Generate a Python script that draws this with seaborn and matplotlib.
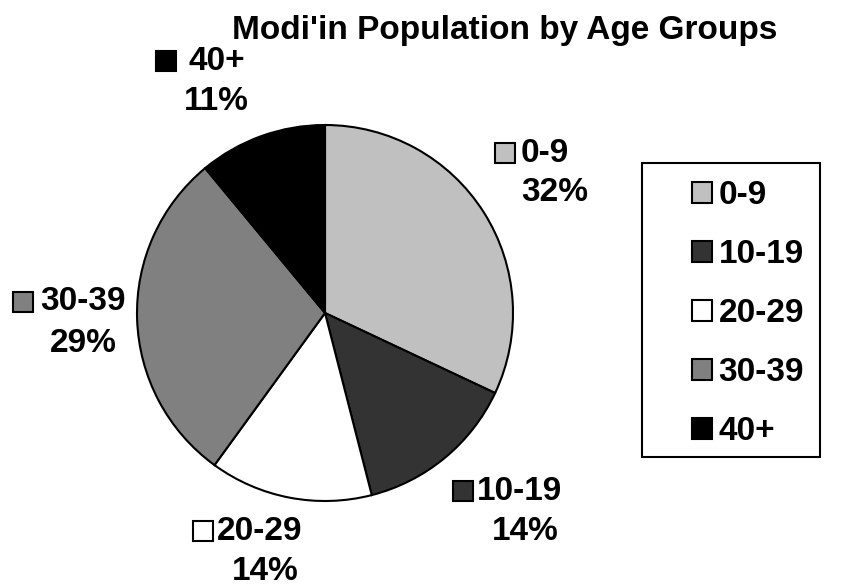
import matplotlib
matplotlib.use("Agg")
import matplotlib.pyplot as plt
import matplotlib.patches as mpatches
import seaborn as sns

# data
groups = ["0-9", "10-19", "20-29", "30-39", "40+"]
shares = [32, 14, 14, 29, 11]
colors = ["#C0C0C0", "#333333", "#FFFFFF", "#808080", "#000000"]
title = "Modi'in Population by Age Groups"

sns.set_theme(style="white")
plt.rcParams['font.family'] = ['Liberation Sans', 'DejaVu Sans']
plt.rcParams['font.weight'] = 'bold'
plt.rcParams['text.color'] = 'black'

W, H = 846, 587
fig = plt.figure(figsize=(W / 100, H / 100), dpi=100)

# pie area in pixels: centre (325, 313), radius 188
cx, cy, r = 325, 313, 188
ax = fig.add_axes([(cx - r) / W, (H - cy - r) / H, 2 * r / W, 2 * r / H])
wedges, _ = ax.pie(shares, colors=colors, startangle=90, counterclock=False,
                   radius=1, wedgeprops=dict(edgecolor="black", linewidth=1.5))
ax.set_xlim(-1, 1)
ax.set_ylim(-1, 1)
ax.set_aspect("equal")
ax.axis("off")

fs = 24


def px(x, y):
    return x / W, 1 - y / H


# data labels: (marker centre x, line1 y, text start x, pct centre x, pct y)
label_pos = [
    (505, 153, 521, 555, 193),
    (463, 491, 477, 525, 531),
    (203, 531, 217, 265, 571),
    (23, 302, 40, 83, 343),
    (166, 61, 188, 216, 102),
]
for g, s, c, (mx, ly, tx, pcx, py) in zip(groups, shares, colors, label_pos):
    fig.patches.append(mpatches.Rectangle(px(mx - 10, ly + 10), 20 / W, 20 / H,
                                          transform=fig.transFigure,
                                          facecolor=c, edgecolor="black", linewidth=1.5))
    fig.text(*px(tx, ly), g, ha="left", va="center", fontsize=fs, fontweight="bold")
    fig.text(*px(pcx, py), f"{s}%", ha="center", va="center", fontsize=fs, fontweight="bold")

# legend box
fig.patches.append(mpatches.Rectangle(px(642, 457), (820 - 642) / W, (457 - 163) / H,
                                      transform=fig.transFigure, facecolor="white",
                                      edgecolor="black", linewidth=1.5))
handles = [mpatches.Patch(facecolor=c, edgecolor="black", linewidth=1.5) for c in colors]
leg = fig.legend(handles, groups, loc="upper left", bbox_to_anchor=px(692, 180),
                 frameon=False, prop={'weight': 'bold', 'size': fs},
                 handlelength=0.6, handleheight=0.6, handletextpad=0.2,
                 labelspacing=0.84, borderpad=0, borderaxespad=0)

fig.text(*px(505, 30), title, ha="center", va="center", fontsize=fs, fontweight="bold")

fig.savefig("out.png", dpi=100)
